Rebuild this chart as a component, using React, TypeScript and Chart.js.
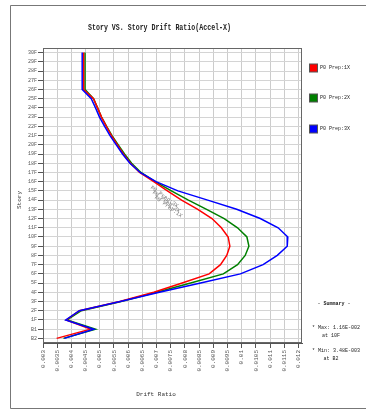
import React, { useEffect, useRef } from 'react';
import { Chart, registerables } from 'chart.js';

Chart.register(...registerables);

const stories = ['30F','29F','28F','27F','26F','25F','24F','23F','22F','21F','20F','19F','18F','17F','16F','15F','14F','13F','12F','11F','10F','9F','8F','7F','6F','5F','4F','3F','2F','1F','B1','B2'];

const prep1X = [0.00443,0.00443,0.00443,0.00443,0.00443,0.00478,0.00492,0.00506,0.00523,0.00541,0.00562,0.00583,0.00608,0.00640,0.00690,0.00738,0.00788,0.00845,0.00895,0.00928,0.00952,0.00958,0.00947,0.00925,0.00885,0.00790,0.00690,0.00570,0.00428,0.00382,0.00467,0.00348];
const prep2X = [0.00448,0.00448,0.00448,0.00448,0.00448,0.00478,0.00492,0.00506,0.00524,0.00543,0.00565,0.00587,0.00612,0.00645,0.00695,0.00752,0.00812,0.00876,0.00938,0.00985,0.01018,0.01025,0.01012,0.00985,0.00935,0.00820,0.00700,0.00575,0.00435,0.00385,0.00485,0.00372];
const prep3X = [0.00438,0.00438,0.00438,0.00438,0.00438,0.00470,0.00485,0.00499,0.00517,0.00536,0.00558,0.00580,0.00606,0.00642,0.00698,0.00775,0.00880,0.00982,0.01065,0.01128,0.01162,0.01160,0.01125,0.01075,0.00995,0.00855,0.00710,0.00572,0.00428,0.00380,0.00479,0.00375];

const seriesNames = ['P0 Prep:1X', 'P0 Prep:2X', 'P0 Prep:3X'];
const seriesColors = ['#ff0000', '#008000', '#0000ff'];

const xMin = 0.003;
const xLastTick = 0.012;
const xMax = 0.01212;
const xStep = 0.0005;

const titleText = 'Story VS. Story Drift Ratio(Accel-X)';
const xTitle = 'Drift Ratio';
const yTitle = 'Story';
const summaryLines = ['- Summary -', '* Max: 1.16E-002', 'at 10F', '* Min: 3.48E-003', 'at B2'];

const decorPlugin = {
  id: 'decor',
  afterDraw(chart: any) {
    const ctx = chart.ctx as CanvasRenderingContext2D;
    const a = chart.chartArea;
    ctx.save();
    // outer frame
    ctx.strokeStyle = '#777';
    ctx.lineWidth = 1;
    ctx.beginPath();
    ctx.moveTo(366, 5.5);
    ctx.lineTo(10.5, 5.5);
    ctx.lineTo(10.5, 408.5);
    ctx.lineTo(366, 408.5);
    ctx.stroke();
    // plot box
    ctx.strokeStyle = '#666';
    ctx.strokeRect(a.left + 0.5, a.top + 0.5, a.right - a.left - 1, a.bottom - a.top - 1);

    // title
    ctx.fillStyle = '#222';
    ctx.font = 'bold 9px "Liberation Mono"';
    ctx.textAlign = 'center';
    ctx.textBaseline = 'middle';
    const tw = ctx.measureText(titleText).width;
    ctx.save();
    ctx.translate(159.5, 27.5);
    ctx.scale(143 / tw, 1);
    ctx.fillText(titleText, 0, 0);
    ctx.restore();

    // axis titles
    ctx.font = '6px "Liberation Mono"';
    ctx.fillStyle = '#333';
    ctx.fillText(xTitle, 156, 394.5);
    ctx.save();
    ctx.translate(19, 200);
    ctx.rotate(-Math.PI / 2);
    ctx.fillText(yTitle, 0, 0);
    ctx.restore();

    // legend
    const legY = [64, 94, 125];
    ctx.textAlign = 'left';
    ctx.font = '5px "Liberation Mono"';
    seriesNames.forEach((n, i) => {
      ctx.fillStyle = seriesColors[i];
      ctx.fillRect(309.5, legY[i], 8, 8);
      ctx.strokeStyle = '#555';
      ctx.strokeRect(309.5, legY[i], 8, 8);
      ctx.fillStyle = '#222';
      ctx.fillText(n, 320, legY[i] + 4);
    });

    // summary
    const sumY = [304, 327.5, 336, 350.5, 358.5];
    const sumX = [334, 336, 331, 336, 331];
    ctx.textAlign = 'center';
    summaryLines.forEach((s, i) => {
      ctx.font = i === 0 ? 'bold 5px "Liberation Mono"' : '5px "Liberation Mono"';
      ctx.fillText(s, sumX[i], sumY[i]);
    });

    // diagonal annotation labels
    ctx.fillStyle = '#777';
    ctx.font = '5.5px "Liberation Mono"';
    ctx.textAlign = 'left';
    const ann = [[151, 187], [153, 192], [155, 197]];
    seriesNames.slice().reverse().forEach((n, i) => {
      ctx.save();
      ctx.translate(ann[i][0], ann[i][1]);
      ctx.rotate((36 * Math.PI) / 180);
      ctx.fillText(n, 0, 0);
      ctx.restore();
    });
    ctx.restore();
  },
};

export default function App() {
  const ref = useRef<HTMLCanvasElement | null>(null);
  useEffect(() => {
    if (!ref.current) return;
    const datasets = [prep1X, prep2X, prep3X].map((d, i) => ({
      label: seriesNames[i],
      data: d,
      borderColor: seriesColors[i],
      backgroundColor: seriesColors[i],
      borderWidth: 1.5,
      pointRadius: 0,
      tension: 0,
      fill: false,
      order: [1, 2, 0][i],
    }));
    const chart = new Chart(ref.current, {
      type: 'line',
      data: { labels: stories, datasets },
      options: {
        indexAxis: 'y',
        animation: false,
        responsive: false,
        maintainAspectRatio: false,
        layout: { padding: { top: 48, right: 64, bottom: 0, left: 0 } },
        plugins: { legend: { display: false }, title: { display: false }, tooltip: { enabled: false } },
        scales: {
          x: {
            type: 'linear',
            position: 'bottom',
            min: xMin,
            max: xMax,
            afterFit: (s: any) => { s.height = 67; },
            afterBuildTicks: (s: any) => {
              const t = [];
              for (let v = xMin; v <= xLastTick + 1e-9; v += xStep) t.push({ value: +v.toFixed(4) });
              s.ticks = t;
            },
            ticks: {
              minRotation: 90,
              maxRotation: 90,
              autoSkip: false,
              includeBounds: false,
              padding: 2,
              color: '#555',
              font: { family: 'Liberation Mono', size: 6 },
              callback: (v: any) => String(+(+v).toFixed(4)),
            },
            grid: { color: '#cccccc', tickColor: '#555', tickLength: 5 },
            border: { color: '#555' },
          },
          y: {
            type: 'category',
            offset: true,
            afterFit: (s: any) => { s.width = 43; },
            ticks: {
              autoSkip: false,
              padding: 1,
              color: '#555',
              font: { family: 'Liberation Mono', size: 5 },
            },
            grid: { color: '#d4d4d4', tickColor: '#555', tickLength: 5, offset: false },
            border: { color: '#555' },
          },
        },
      },
      plugins: [decorPlugin],
    } as any);
    return () => chart.destroy();
  }, []);
  return (
    <div style={{ position: 'fixed', left: 0, top: 0, width: 366, height: 410, background: '#fff' }}>
      <canvas ref={ref} width={366} height={410} style={{ width: 366, height: 410, display: 'block' }} />
    </div>
  );
}
